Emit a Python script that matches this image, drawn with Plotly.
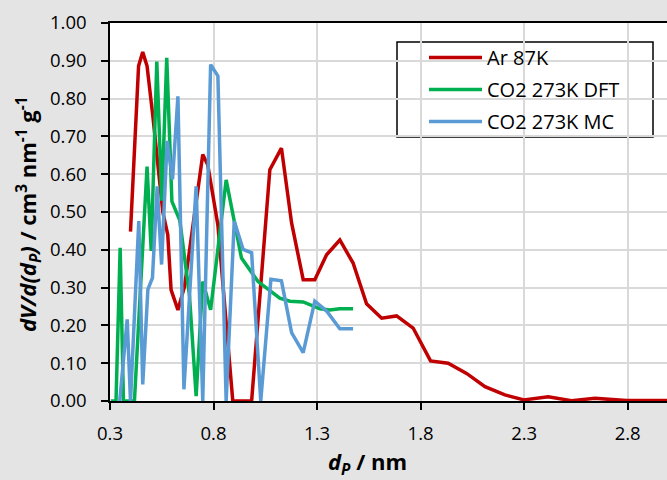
import plotly.graph_objects as go

# Ar 87K
ar_x = [0.399, 0.438, 0.458, 0.479, 0.507, 0.531, 0.555, 0.579, 0.595, 0.628, 0.660,
        0.748, 0.772, 0.821, 0.893, 0.984, 1.072, 1.128, 1.177, 1.233, 1.289, 1.346,
        1.410, 1.474, 1.539, 1.612, 1.684, 1.764, 1.848, 1.933, 2.022, 2.111, 2.207,
        2.299, 2.416, 2.529, 2.642, 2.795, 2.988, 3.150]
ar_y = [0.448, 0.886, 0.923, 0.886, 0.753, 0.620, 0.500, 0.440, 0.294, 0.241, 0.303,
        0.652, 0.625, 0.466, 0.000, 0.000, 0.612, 0.669, 0.471, 0.321, 0.321, 0.387,
        0.426, 0.365, 0.257, 0.219, 0.225, 0.193, 0.106, 0.100, 0.073, 0.038, 0.016,
        0.003, 0.011, 0.001, 0.007, 0.001, 0.002, 0.002]

# CO2 273K DFT
dft_x = [0.304, 0.329, 0.349, 0.365, 0.418, 0.479, 0.499, 0.526, 0.550, 0.574, 0.599,
         0.637, 0.684, 0.716, 0.748, 0.786, 0.861, 0.903, 0.935, 1.015, 1.056, 1.120,
         1.169, 1.233, 1.314, 1.362, 1.410, 1.474]
dft_y = [0.000, 0.000, 0.405, 0.000, 0.000, 0.620, 0.397, 0.898, 0.530, 0.908, 0.528,
         0.478, 0.278, 0.013, 0.316, 0.241, 0.585, 0.470, 0.378, 0.316, 0.299, 0.272,
         0.264, 0.262, 0.244, 0.241, 0.244, 0.244]

# CO2 273K MC
mc_x = [0.347, 0.383, 0.399, 0.439, 0.458, 0.483, 0.505, 0.528, 0.549, 0.576, 0.602,
        0.628, 0.657, 0.716, 0.748, 0.786, 0.821, 0.861, 0.900, 0.943, 0.984, 1.028,
        1.077, 1.128, 1.177, 1.233, 1.289, 1.346, 1.410, 1.474]
mc_y = [0.000, 0.216, 0.000, 0.476, 0.044, 0.295, 0.326, 0.568, 0.361, 0.688, 0.586,
        0.806, 0.031, 0.568, 0.000, 0.890, 0.860, 0.000, 0.476, 0.401, 0.392, 0.000,
        0.322, 0.318, 0.181, 0.128, 0.264, 0.238, 0.191, 0.191]

y_ticks = [0.0, 0.1, 0.2, 0.3, 0.4, 0.5, 0.6, 0.7, 0.8, 0.9, 1.0]
x_ticks = [0.3, 0.8, 1.3, 1.8, 2.3, 2.8]

FONT = "Open Sans"
W, H = 667, 480
ML, MR, MT, MB = 110, 0, 23, 79
PW, PH = W - ML - MR, H - MT - MB

def px2paper_x(px):
    return (px - ML) / PW

def px2paper_y(py):
    return (H - MB - py) / PH

fig = go.Figure()
series = [("Ar 87K", ar_x, ar_y, "#c00000"),
          ("CO2 273K DFT", dft_x, dft_y, "#00b050"),
          ("CO2 273K MC", mc_x, mc_y, "#5b9bd5")]
for name, xs, ys, col in series:
    fig.add_trace(go.Scatter(x=xs, y=ys, mode="lines", name=name,
                             line=dict(color=col, width=3.5), legendgroup=name))

fig.add_shape(type="rect", xref="paper", yref="paper",
              x0=px2paper_x(397), x1=px2paper_x(653),
              y0=px2paper_y(137), y1=px2paper_y(42),
              fillcolor="white", line=dict(color="black", width=1.5), layer="between")

# axis titles as annotations for exact placement
fig.add_annotation(text="<b><i>d<sub>P</sub></i> / nm</b>", xref="paper", yref="paper",
                   x=px2paper_x(367), y=px2paper_y(463), xanchor="center", yanchor="middle",
                   showarrow=False, font=dict(family=FONT, size=22, color="black"))
fig.add_annotation(text="<b><i>dV/d(d<sub>P</sub>)</i> / cm<sup>3</sup> nm<sup>-1</sup> g<sup>-1</sup></b>",
                   xref="paper", yref="paper", textangle=-90,
                   x=px2paper_x(28), y=px2paper_y(214), xanchor="center", yanchor="middle",
                   showarrow=False, font=dict(family=FONT, size=22, color="black"))

fig.update_layout(
    width=W, height=H,
    margin=dict(l=ML, r=MR, t=MT, b=MB, pad=0, autoexpand=False),
    paper_bgcolor="#e4e4e4", plot_bgcolor="white",
    font=dict(family=FONT, size=18, color="black"),
    showlegend=True,
    legend=dict(x=px2paper_x(424), y=px2paper_y(38), xanchor="left", yanchor="top",
                bgcolor="rgba(0,0,0,0)", borderwidth=0,
                font=dict(family=FONT, size=20, color="black"),
                traceorder="grouped", tracegroupgap=3, itemwidth=53),
    xaxis=dict(range=[0.3, 2.99], tickvals=x_ticks, ticktext=[f"{v:.1f}" for v in x_ticks],
               showgrid=True, gridcolor="#d9d9d9", gridwidth=1.5,
               showline=True, linecolor="black", linewidth=1.5, mirror=True,
               ticks="outside", ticklen=7, tickcolor="black", tickwidth=1.5,
               ticklabelstandoff=8, zeroline=False, automargin=False,
               tickfont=dict(size=18.5)),
    yaxis=dict(range=[0, 1.0], tickvals=y_ticks, ticktext=[f"{v:.2f}" for v in y_ticks],
               showgrid=True, gridcolor="#d9d9d9", gridwidth=1.5,
               showline=True, linecolor="black", linewidth=1.5,
               ticks="outside", ticklen=7, tickcolor="black", tickwidth=1.5,
               ticklabelstandoff=11, zeroline=False, automargin=False,
               tickfont=dict(size=18.5)),
)

fig.write_html("out.html", config={"displayModeBar": False},
               post_script="document.body.style.margin='0';document.body.style.background='#e4e4e4';")
